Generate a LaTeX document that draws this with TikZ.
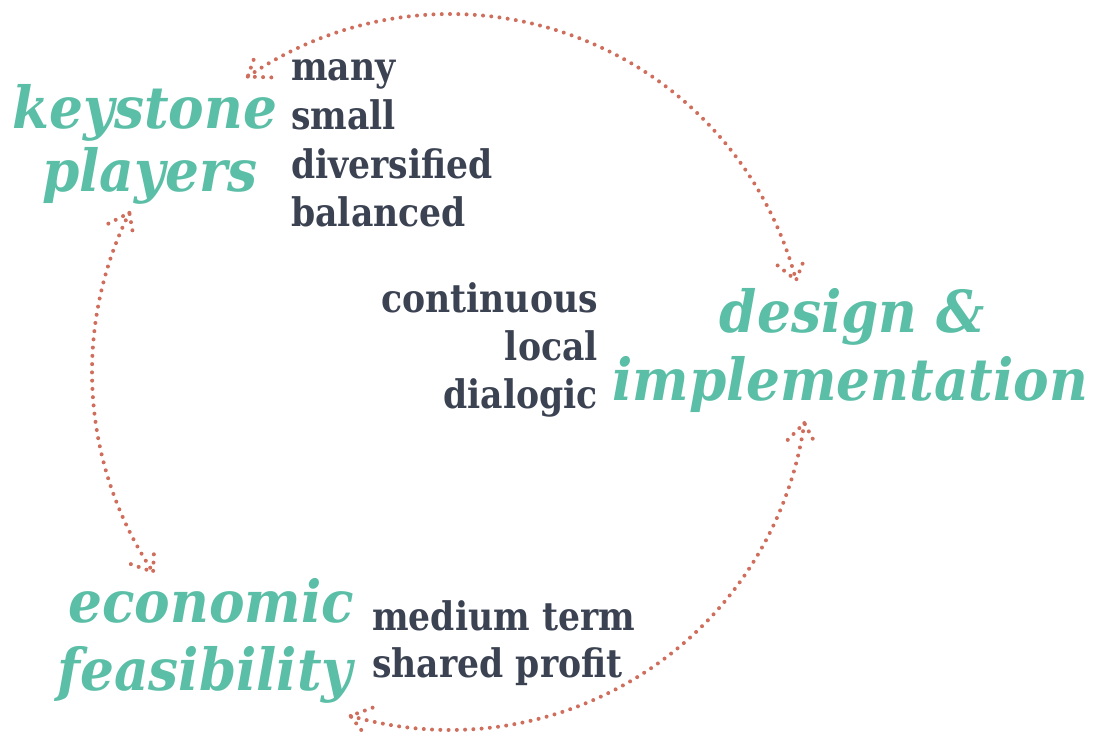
\documentclass[tikz,border=0pt]{standalone}
\usepackage{fontspec}
\usetikzlibrary{decorations.markings,calc}
\newfontfamily\tealfont[FakeStretch=0.92]{DejaVu Serif}
\newfontfamily\darkfont[FakeStretch=0.88]{DejaVu Serif}
\definecolor{tealtxt}{HTML}{5BBEA6}
\definecolor{darktxt}{HTML}{3B4252}
\definecolor{coralline}{HTML}{CF6E5C}
\begin{document}
\begin{tikzpicture}[x=0.75pt,y=-0.75pt,
  big/.style={font=\tealfont\bfseries\itshape\fontsize{43.5}{50}\selectfont, text=tealtxt, inner sep=0pt},
  small/.style={font=\darkfont\bfseries\fontsize{29.5}{34}\selectfont, text=darktxt, inner sep=0pt},
  dots/.style={draw=coralline, line width=3pt, line cap=round, dash pattern=on 0pt off 6.2pt},
  twohead/.style={dots, postaction={decorate, decoration={markings,
      mark=at position 0 with {\draw[dots] (19,14)--(0,0)--(19,-14);},
      mark=at position 0.9995 with {\draw[dots] (-19,14)--(0,0)--(-19,-14);}}}}
]
\useasboundingbox (0,0) rectangle (1098,738);
\node[big, anchor=base west] (ks) at (12,129) {keystone};
\node[big, anchor=base west] (pl) at (42,191) {players};
\node[small, anchor=base west] (many) at (291,81) {many};
\node[small, anchor=base west] (smll) at (291,130) {small};
\node[small, anchor=base west] (div) at (291,178) {diversified};
\node[small, anchor=base west] (bal) at (291,226) {balanced};
\node[small, anchor=base east] (cont) at (598,312) {continuous};
\node[small, anchor=base east] (loc) at (598,360) {local};
\node[small, anchor=base east] (dia) at (598,408) {dialogic};
\node[big, anchor=base] (des) at (852,332) {design \&};
\node[big, anchor=base west] (impl) at (612,400) {implementation};
\node[big, anchor=base west] (eco) at (68,622) {economic};
\node[big, anchor=base west] (fea) at (57,690) {feasibility};
\node[small, anchor=base west] (med) at (372,630) {medium term};
\node[small, anchor=base west] (shp) at (372,677) {shared profit};
\coordinate (c) at (450,372);
\coordinate (a1) at ($(c)+(-124.4:358)$);
\coordinate (a2) at ($(c)+(-14.8:358)$);
\coordinate (b1) at ($(c)+(-153.6:358)$);
\coordinate (b2) at ($(c)+(-214:358)$);
\coordinate (c1) at ($(c)+(8.2:358)$);
\coordinate (c2) at ($(c)+(106.2:358)$);
\draw[twohead] (a1) arc[start angle=-124.4, end angle=-14.8, radius=358];
\draw[twohead] (b1) arc[start angle=-153.6, end angle=-214, radius=358];
\draw[twohead] (c1) arc[start angle=8.2, end angle=106.2, radius=358];
\end{tikzpicture}
\end{document}
